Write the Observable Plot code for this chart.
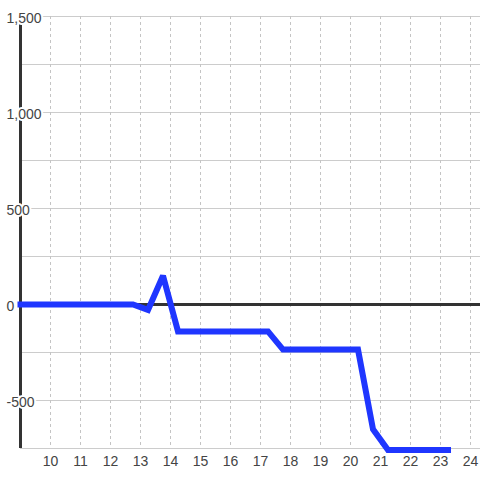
<!DOCTYPE html>
<html>
<head>
<meta charset="utf-8">
<script src="https://cdn.jsdelivr.net/npm/d3@7"></script>
<script src="https://cdn.jsdelivr.net/npm/@observablehq/plot@0.6"></script>
<style>
  html, body { margin: 0; padding: 0; background: white; }
</style>
</head>
<body>
<div id="chart"></div>
<script>
const xValues = [9, 12.75, 13.25, 13.75, 14.25, 17.25, 17.75, 20.25, 20.75, 21.25, 23.25];
const yValues = [0, 0, -28, 150, -140, -140, -235, -235, -650, -758, -758];
const xTicks = [10, 11, 12, 13, 14, 15, 16, 17, 18, 19, 20, 21, 22, 23, 24];
const yGrid = [-750, -500, -250, 250, 500, 750, 1000, 1250, 1500];
const yLabels = [-500, 0, 500, 1000, 1500];
const xDomain = [9, 24.333];
const yDomain = [-750, 1500];

const fmt = d => d.toLocaleString("en-US");

const chart = Plot.plot({
  width: 480,
  height: 480,
  marginLeft: 20,
  marginRight: 0,
  marginTop: 16,
  marginBottom: 32,
  x: {domain: xDomain, axis: null},
  y: {domain: yDomain, axis: null},
  style: {fontFamily: "'Liberation Sans', Arial, sans-serif", fontSize: "14px", background: "white"},
  marks: [
    Plot.ruleY(yGrid, {stroke: "#cccccc", strokeWidth: 1}),
    Plot.ruleX(xTicks, {stroke: "#c4c4c4", strokeWidth: 1, strokeDasharray: "3,3"}),
    Plot.ruleY([0], {stroke: "#333333", strokeWidth: 3}),
    Plot.ruleX([xDomain[0]], {stroke: "#333333", strokeWidth: 3}),
    Plot.line(xValues, {
      x: xValues,
      y: yValues,
      stroke: "#1f36ff",
      strokeWidth: 6,
      strokeLinecap: "square",
      strokeLinejoin: "miter",
      strokeMiterlimit: 2
    }),
    Plot.text(yLabels, {
      x: xDomain[0],
      y: d => d,
      text: fmt,
      textAnchor: "start",
      dx: -14,
      dy: 2,
      fill: "#444444",
      stroke: "white",
      strokeWidth: 4,
      fontSize: 14
    }),
    Plot.text(xTicks, {
      x: d => d,
      y: yDomain[0],
      text: d => String(d),
      dy: 13.5,
      fill: "#444444",
      fontSize: 14
    })
  ]
});
document.getElementById("chart").appendChild(chart);
</script>
</body>
</html>
